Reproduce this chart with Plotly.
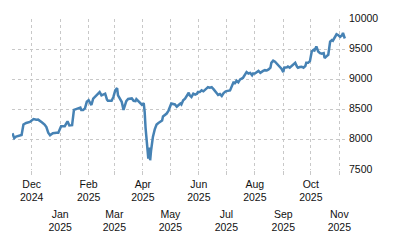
import plotly.graph_objects as go

dates = [
    "2024-11-10", "2024-11-12", "2024-11-14", "2024-11-18", "2024-11-20", "2024-11-22",
    "2024-11-25", "2024-11-29", "2024-12-01", "2024-12-03", "2024-12-06", "2024-12-08",
    "2024-12-12", "2024-12-15", "2024-12-17", "2024-12-19", "2024-12-21", "2024-12-24",
    "2024-12-28", "2024-12-30", "2025-01-02", "2025-01-06", "2025-01-09", "2025-01-11",
    "2025-01-14", "2025-01-16", "2025-01-19", "2025-01-23", "2025-01-24", "2025-01-26",
    "2025-01-28", "2025-01-30", "2025-02-01", "2025-02-03", "2025-02-04", "2025-02-06",
    "2025-02-08", "2025-02-10", "2025-02-12", "2025-02-13", "2025-02-15", "2025-02-17",
    "2025-02-19", "2025-02-21", "2025-02-22", "2025-02-26", "2025-02-28", "2025-03-02",
    "2025-03-04", "2025-03-05", "2025-03-07", "2025-03-09", "2025-03-11", "2025-03-13",
    "2025-03-14", "2025-03-16", "2025-03-18", "2025-03-20", "2025-03-22", "2025-03-24",
    "2025-03-25", "2025-03-27", "2025-03-29", "2025-03-31", "2025-04-02", "2025-04-03",
    "2025-04-04", "2025-04-05", "2025-04-06", "2025-04-07", "2025-04-08", "2025-04-09",
    "2025-04-10", "2025-04-11", "2025-04-12", "2025-04-14", "2025-04-16", "2025-04-18",
    "2025-04-20", "2025-04-22", "2025-04-23", "2025-04-25", "2025-04-27", "2025-04-29",
    "2025-05-01", "2025-05-02", "2025-05-06", "2025-05-08", "2025-05-10", "2025-05-12",
    "2025-05-13", "2025-05-15", "2025-05-17", "2025-05-19", "2025-05-21", "2025-05-22",
    "2025-05-24", "2025-05-26", "2025-05-28", "2025-05-30", "2025-05-31", "2025-06-02",
    "2025-06-04", "2025-06-06", "2025-06-08", "2025-06-10", "2025-06-11", "2025-06-13",
    "2025-06-15", "2025-06-17", "2025-06-19", "2025-06-21", "2025-06-22", "2025-06-24",
    "2025-06-26", "2025-06-28", "2025-06-30", "2025-07-01", "2025-07-05", "2025-07-07",
    "2025-07-09", "2025-07-10", "2025-07-12", "2025-07-14", "2025-07-16", "2025-07-19",
    "2025-07-21", "2025-07-23", "2025-07-25", "2025-07-27", "2025-07-29", "2025-07-30",
    "2025-08-01", "2025-08-03", "2025-08-05", "2025-08-07", "2025-08-08", "2025-08-10",
    "2025-08-12", "2025-08-14", "2025-08-16", "2025-08-18", "2025-08-19", "2025-08-21",
    "2025-08-23", "2025-08-25", "2025-08-27", "2025-08-28", "2025-08-30", "2025-09-01",
    "2025-09-02", "2025-09-05", "2025-09-06", "2025-09-08", "2025-09-10", "2025-09-12",
    "2025-09-14", "2025-09-16", "2025-09-17", "2025-09-19", "2025-09-21", "2025-09-23",
    "2025-09-25", "2025-09-26", "2025-09-28", "2025-09-30", "2025-10-02", "2025-10-04",
    "2025-10-05", "2025-10-07", "2025-10-09", "2025-10-11", "2025-10-13", "2025-10-15",
    "2025-10-16", "2025-10-18", "2025-10-20", "2025-10-22", "2025-10-24", "2025-10-25",
    "2025-10-27", "2025-10-29", "2025-10-31", "2025-11-02", "2025-11-04", "2025-11-05",
    "2025-11-07",
]

values = [
    8108, 8027, 8053, 8076, 8081, 8253,
    8279, 8295, 8314, 8344, 8331, 8334,
    8290, 8253, 8210, 8118, 8076, 8108,
    8118, 8118, 8226, 8226, 8306, 8237,
    8242, 8495, 8511, 8532, 8495, 8495,
    8521, 8629, 8656, 8602, 8576, 8682,
    8710, 8737, 8779, 8790, 8737, 8747,
    8763, 8666, 8645, 8645, 8710, 8818,
    8855, 8737, 8673, 8629, 8495, 8602,
    8640, 8677, 8682, 8685, 8645, 8640,
    8673, 8645, 8613, 8581, 8605, 8468,
    8198, 7984, 7823, 7689, 7871, 7661,
    7823, 7968, 8048, 8173, 8253, 8279,
    8295, 8318, 8387, 8414, 8435, 8484,
    8576, 8602, 8585, 8548, 8576, 8602,
    8585, 8656, 8682, 8737, 8779, 8737,
    8710, 8763, 8747, 8763, 8790, 8790,
    8818, 8802, 8834, 8855, 8871, 8863,
    8871, 8839, 8790, 8763, 8742, 8758,
    8726, 8774, 8798, 8806, 8818, 8898,
    8960, 8924, 8979, 8952, 9000, 9024,
    9081, 9121, 9097, 9108, 9069, 9097,
    9097, 9121, 9140, 9108, 9121, 9140,
    9153, 9148, 9166, 9194, 9274, 9310,
    9294, 9258, 9221, 9194, 9177, 9121,
    9194, 9202, 9213, 9194, 9221, 9263,
    9274, 9210, 9194, 9205, 9210, 9194,
    9221, 9274, 9274, 9302, 9463, 9489,
    9479, 9544, 9463, 9435, 9424, 9435,
    9355, 9382, 9408, 9624, 9650, 9640,
    9705, 9747, 9731, 9705, 9731, 9769,
    9677,
]

month_ticks = ["2024-12-01", "2025-01-01", "2025-02-01", "2025-03-01", "2025-04-01",
               "2025-05-01", "2025-06-01", "2025-07-01", "2025-08-01", "2025-09-01",
               "2025-10-01", "2025-11-01"]
month_labels = ["Dec<br>2024", "Jan<br>2025", "Feb<br>2025", "Mar<br>2025", "Apr<br>2025",
                "May<br>2025", "Jun<br>2025", "Jul<br>2025", "Aug<br>2025", "Sep<br>2025",
                "Oct<br>2025", "Nov<br>2025"]
y_ticks = [7500, 8000, 8500, 9000, 9500, 10000]
y_labels = ["7500", "8000", "8500", "9000", "9500", "10000"]

row1 = [t if i % 2 == 0 else "" for i, t in enumerate(month_labels)]
row2 = [t if i % 2 == 1 else "" for i, t in enumerate(month_labels)]

x_range = ["2024-11-09 13:00", "2025-11-08 07:00"]
font = dict(family="Liberation Sans, Arial, sans-serif", size=10.5, color="#111")

fig = go.Figure()
fig.add_trace(go.Scatter(x=dates, y=values, mode="lines",
                         line=dict(color="#4682b4", width=2.5), hoverinfo="skip",
                         showlegend=False))
fig.add_trace(go.Scatter(x=dates, y=values, mode="lines", xaxis="x2",
                         line=dict(color="rgba(0,0,0,0)", width=0), hoverinfo="skip",
                         showlegend=False))

fig.update_layout(
    width=400, height=250,
    margin=dict(l=12, r=54, t=15, b=80),
    paper_bgcolor="white", plot_bgcolor="white",
    font=font,
    xaxis=dict(range=x_range, tickvals=month_ticks, ticktext=row1, tickangle=0,
               showgrid=True, gridcolor="#c8c8c8", griddash="dot", gridwidth=1,
               ticks="outside", ticklen=4, tickcolor="#c8c8c8", tickwidth=1,
               showline=False, zeroline=False, ticklabelstandoff=0, tickfont=font),
    xaxis2=dict(range=x_range, overlaying="x", anchor="y", side="bottom",
                tickvals=month_ticks, ticktext=row2, tickangle=0,
                showgrid=False, ticks="", showline=False, zeroline=False,
                ticklabelstandoff=36, tickfont=font),
    yaxis=dict(range=[7500, 10000], side="right", tickvals=y_ticks, ticktext=y_labels,
               showgrid=True, gridcolor="#c8c8c8", griddash="dot", gridwidth=1,
               ticks="", showline=False, zeroline=False, ticklabelshift=-1,
               ticklabelstandoff=2, tickfont=font),
)

fig.write_html("out.html")
